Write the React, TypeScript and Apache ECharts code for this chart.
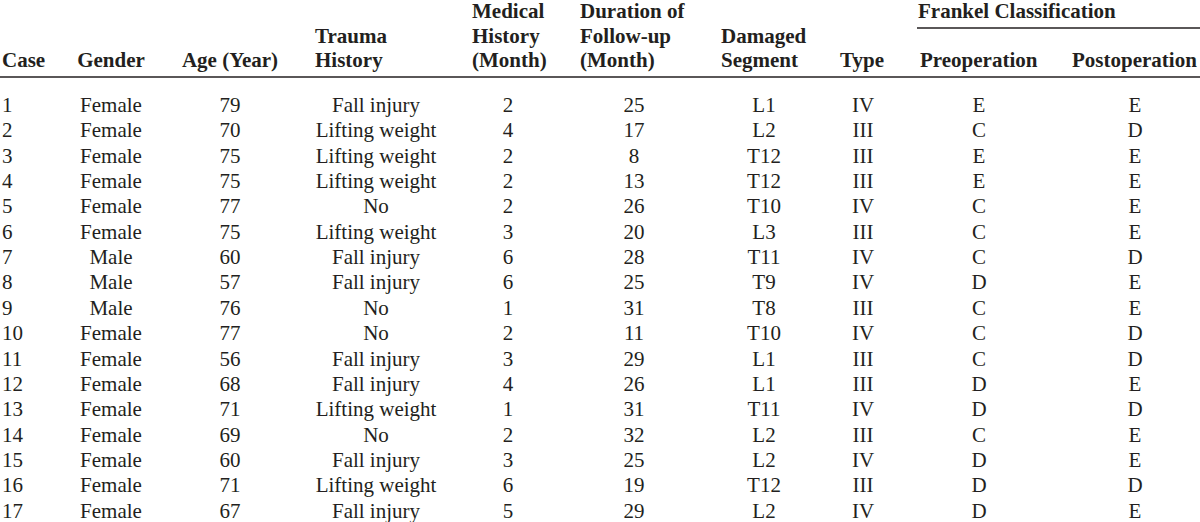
import React, { useEffect, useRef } from "react";
import * as echarts from "echarts";

// ---- Table data ----
const caseNo = ["1","2","3","4","5","6","7","8","9","10","11","12","13","14","15","16","17"];
const gender = ["Female","Female","Female","Female","Female","Female","Male","Male","Male","Female","Female","Female","Female","Female","Female","Female","Female"];
const age = ["79","70","75","75","77","75","60","57","76","77","56","68","71","69","60","71","67"];
const trauma = ["Fall injury","Lifting weight","Lifting weight","Lifting weight","No","Lifting weight","Fall injury","Fall injury","No","No","Fall injury","Fall injury","Lifting weight","No","Fall injury","Lifting weight","Fall injury"];
const medicalHistory = ["2","4","2","2","2","3","6","6","1","2","3","4","1","2","3","6","5"];
const followUp = ["25","17","8","13","26","20","28","25","31","11","29","26","31","32","25","19","29"];
const segment = ["L1","L2","T12","T12","T10","L3","T11","T9","T8","T10","L1","L1","T11","L2","L2","T12","L2"];
const injuryType = ["IV","III","III","III","IV","III","IV","IV","III","IV","III","III","IV","III","IV","III","IV"];
const preop = ["E","C","E","E","C","C","C","D","C","C","C","D","D","C","D","D","D"];
const postop = ["E","D","E","E","E","E","D","E","E","D","D","E","D","E","E","D","E"];

const headerLines = [
  ["Case"],
  ["Gender"],
  ["Age (Year)"],
  ["Trauma", "History"],
  ["Medical", "History", "(Month)"],
  ["Duration of", "Follow-up", "(Month)"],
  ["Damaged", "Segment"],
  ["Type"],
  ["Preoperation"],
  ["Postoperation"],
];
const groupHeader = "Frankel Classification";

// ---- Layout ----
const columns = [caseNo, gender, age, trauma, medicalHistory, followUp, segment, injuryType, preop, postop];
const dataX = [2, 111, 230, 376, 508, 634, 764, 863, 979, 1135];
const dataAlign = ["left", "center", "center", "center", "center", "center", "center", "center", "center", "center"];
const headX = [2, 111, 230, 315, 472, 580, 721, 840, 920, 1072];
const headAlign = ["left", "center", "center", "left", "left", "left", "left", "left", "left", "left"];
const headRowY = [11, 35.5, 60];
const rowY0 = 105;
const rowStep = 25.35;
const FONT = "'Liberation Serif', 'Times New Roman', serif";
const INK = "#231f20";

export default function App() {
  const ref = useRef<HTMLDivElement>(null);
  useEffect(() => {
    if (!ref.current) return;
    const chart = echarts.init(ref.current, undefined, { renderer: "svg" });
    const elements: any[] = [];
    // headers
    headerLines.forEach((lines, c) => {
      const offset = 3 - lines.length;
      lines.forEach((t, k) => {
        elements.push({
          type: "text",
          x: headX[c],
          y: headRowY[offset + k],
          style: {
            text: t,
            fill: INK,
            fontFamily: FONT,
            fontWeight: "bold",
            fontSize: 21,
            textAlign: headAlign[c],
            textVerticalAlign: "middle",
          },
        });
      });
    });
    elements.push({
      type: "text",
      x: 918,
      y: headRowY[0],
      style: {
        text: groupHeader,
        fill: INK,
        fontFamily: FONT,
        fontWeight: "bold",
        fontSize: 21,
        textAlign: "left",
        textVerticalAlign: "middle",
      },
    });
    elements.push({
      type: "line",
      shape: { x1: 917, y1: 28, x2: 1200, y2: 28 },
      style: { stroke: INK, lineWidth: 1.5 },
    });
    elements.push({
      type: "line",
      shape: { x1: 0, y1: 77, x2: 1200, y2: 77 },
      style: { stroke: INK, lineWidth: 1.5 },
    });
    // body
    columns.forEach((col, c) => {
      col.forEach((v, r) => {
        elements.push({
          type: "text",
          x: dataX[c],
          y: rowY0 + r * rowStep,
          style: {
            text: v,
            fill: INK,
            fontFamily: FONT,
            fontSize: 21,
            textAlign: dataAlign[c],
            textVerticalAlign: "middle",
          },
        });
      });
    });
    chart.setOption({
      animation: false,
      backgroundColor: "#ffffff",
      graphic: { elements },
    });
    return () => chart.dispose();
  }, []);
  return (
    <div
      ref={ref}
      style={{ position: "fixed", left: 0, top: 0, width: 1200, height: 522, background: "#fff" }}
    />
  );
}
